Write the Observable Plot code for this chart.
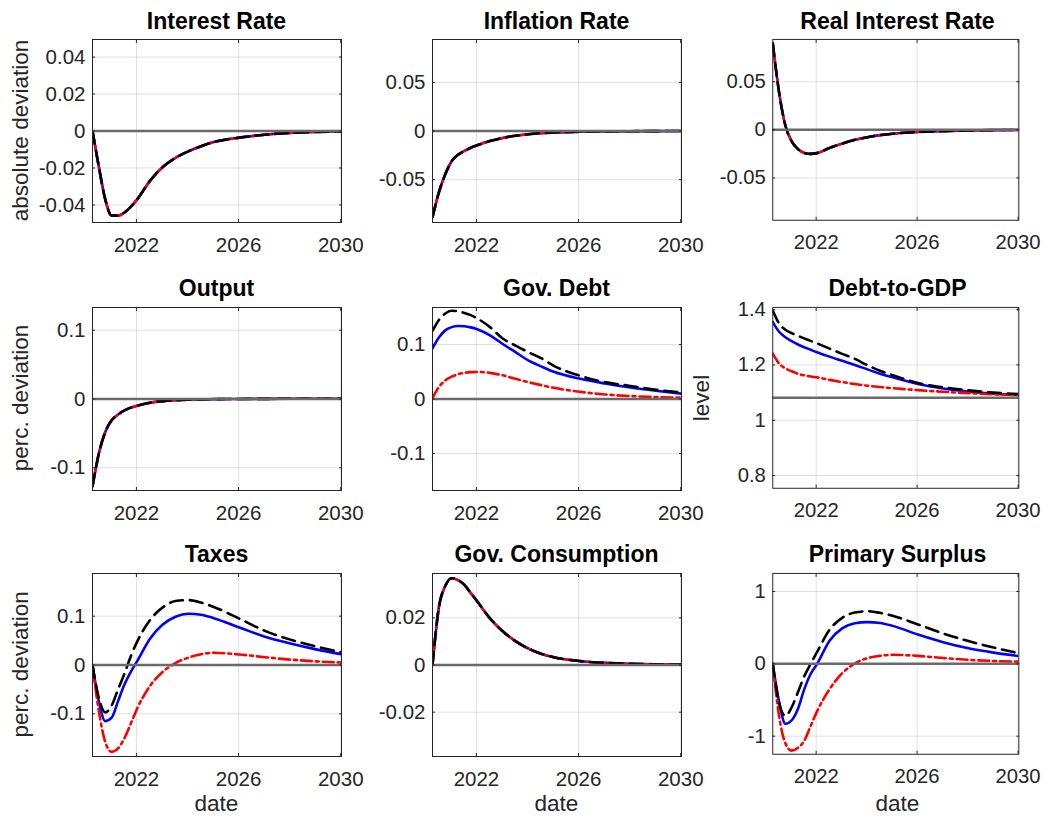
<!DOCTYPE html>
<html><head><meta charset="utf-8">
<script src="https://cdn.jsdelivr.net/npm/d3@7"></script>
<script src="https://cdn.jsdelivr.net/npm/@observablehq/plot@0.6"></script>
<style>
body{margin:0;background:#fff;}
#root{position:relative;width:1046px;height:816px;overflow:hidden;background:#fff;font-family:"Liberation Sans",Arial,Helvetica,sans-serif;}
.panel{position:absolute;}
#labels{position:absolute;left:0;top:0;pointer-events:none;}
</style></head><body><div id="root"></div>
<script>
// ---- data (quarterly early, then half-yearly / yearly) ----
const dates = [2020.28, 2020.53, 2020.78, 2021.03, 2021.28, 2021.53, 2021.78, 2022.03, 2022.53, 2023.03, 2023.53, 2024.03, 2024.53, 2025.03, 2026.03, 2027.03, 2028.03, 2029.03, 2030.03];

const interestRate = [0, -0.0195, -0.037, -0.0458, -0.0458, -0.0441, -0.041, -0.037, -0.027, -0.0195, -0.0145, -0.011, -0.0082, -0.006, -0.0036, -0.002, -0.001, -0.0005, -0.0002];
const inflationRate = [-0.0886, -0.063, -0.0445, -0.031, -0.0245, -0.0205, -0.0172, -0.0147, -0.0103, -0.0071, -0.0049, -0.0033, -0.0022, -0.0015, -0.0008, -0.0004, -0.0002, -0.0001, 0];
const realRate = [0.090, 0.039, 0.0045, -0.012, -0.020, -0.024, -0.025, -0.0242, -0.0188, -0.0143, -0.0104, -0.0076, -0.0055, -0.004, -0.0022, -0.0013, -0.0007, -0.0003, -0.0001];
const output = [-0.127, -0.079, -0.048, -0.031, -0.0225, -0.0165, -0.0125, -0.0097, -0.0054, -0.0031, -0.0018, -0.001, -0.0005, -0.0002, 0.0001, 0.0002, 0.0003, 0.0003, 0.0003];

const debtBlue  = [0.093, 0.113, 0.126, 0.132, 0.134, 0.1335, 0.1315, 0.128, 0.117, 0.101, 0.086, 0.071, 0.060, 0.050, 0.0375, 0.0285, 0.021, 0.015, 0.0098];
const debtRed   = [0.002, 0.022, 0.034, 0.041, 0.0455, 0.048, 0.0493, 0.0497, 0.048, 0.0435, 0.037, 0.031, 0.0255, 0.0205, 0.0133, 0.0084, 0.0054, 0.0035, 0.0024];
const debtBlack = [0.125, 0.145, 0.157, 0.162, 0.161, 0.158, 0.154, 0.148, 0.132, 0.111, 0.098, 0.086, 0.075, 0.061, 0.043, 0.031, 0.024, 0.017, 0.012];

const dtgBlue  = [1.355, 1.320, 1.300, 1.286, 1.274, 1.264, 1.255, 1.246, 1.230, 1.215, 1.200, 1.184, 1.168, 1.155, 1.131, 1.115, 1.104, 1.096, 1.091];
const dtgRed   = [1.241, 1.205, 1.188, 1.177, 1.168, 1.162, 1.158, 1.155, 1.146, 1.138, 1.131, 1.125, 1.120, 1.116, 1.109, 1.103, 1.098, 1.094, 1.091];
const dtgBlack = [1.397, 1.350, 1.327, 1.315, 1.305, 1.296, 1.287, 1.278, 1.259, 1.240, 1.222, 1.199, 1.179, 1.163, 1.135, 1.119, 1.108, 1.100, 1.095];
const dtgSteady = 1.081;

const taxBlue  = [0, -0.075, -0.115, -0.108, -0.074, -0.040, -0.014, 0.008, 0.054, 0.083, 0.099, 0.105, 0.103, 0.096, 0.077, 0.058, 0.044, 0.032, 0.022];
const taxRed   = [0, -0.095, -0.158, -0.178, -0.171, -0.150, -0.120, -0.089, -0.043, -0.014, 0.004, 0.015, 0.022, 0.025, 0.0215, 0.016, 0.011, 0.0075, 0.005];
const taxBlack = [0, -0.068, -0.097, -0.083, -0.050, -0.018, 0.018, 0.048, 0.092, 0.118, 0.131, 0.133, 0.128, 0.119, 0.095, 0.070, 0.052, 0.038, 0.026];

const govCons = [0, 0.0245, 0.0335, 0.0368, 0.036, 0.034, 0.0305, 0.027, 0.0198, 0.0143, 0.0101, 0.007, 0.0048, 0.0033, 0.0017, 0.0009, 0.0005, 0.0003, 0.0002];

const psBlue  = [0, -0.52, -0.83, -0.78, -0.62, -0.35, -0.14, -0.005, 0.32, 0.49, 0.56, 0.577, 0.565, 0.525, 0.405, 0.30, 0.215, 0.155, 0.108];
const psRed   = [0, -0.72, -1.10, -1.20, -1.16, -1.06, -0.86, -0.66, -0.35, -0.13, 0.005, 0.078, 0.11, 0.125, 0.11, 0.08, 0.055, 0.04, 0.03];
const psBlack = [0, -0.54, -0.72, -0.60, -0.39, -0.17, 0.0, 0.16, 0.47, 0.635, 0.71, 0.727, 0.705, 0.665, 0.545, 0.42, 0.315, 0.225, 0.146];

const xTicks = [2022, 2026, 2030];

const panels = [
  {title:"Interest Rate", row:0, col:0, blue:interestRate, red:interestRate, black:interestRate, ss:0, yDomain:[-0.0495,0.0495], yTicks:[-0.04,-0.02,0,0.02,0.04], ylabel:"absolute deviation"},
  {title:"Inflation Rate", row:0, col:1, blue:inflationRate, red:inflationRate, black:inflationRate, ss:0, yDomain:[-0.094,0.094], yTicks:[-0.05,0,0.05]},
  {title:"Real Interest Rate", row:0, col:2, blue:realRate, red:realRate, black:realRate, ss:0, yDomain:[-0.094,0.094], yTicks:[-0.05,0,0.05]},
  {title:"Output", row:1, col:0, blue:output, red:output, black:output, ss:0, yDomain:[-0.133,0.133], yTicks:[-0.1,0,0.1], ylabel:"perc. deviation"},
  {title:"Gov. Debt", row:1, col:1, blue:debtBlue, red:debtRed, black:debtBlack, ss:0, yDomain:[-0.168,0.168], yTicks:[-0.1,0,0.1]},
  {title:"Debt-to-GDP", row:1, col:2, blue:dtgBlue, red:dtgRed, black:dtgBlack, ss:dtgSteady, yDomain:[0.754,1.408], yTicks:[0.8,1,1.2,1.4], ylabel:"level"},
  {title:"Taxes", row:2, col:0, blue:taxBlue, red:taxRed, black:taxBlack, ss:0, yDomain:[-0.1875,0.1875], yTicks:[-0.1,0,0.1], ylabel:"perc. deviation", xlabel:"date"},
  {title:"Gov. Consumption", row:2, col:1, blue:govCons, red:govCons, black:govCons, ss:0, yDomain:[-0.0388,0.0388], yTicks:[-0.02,0,0.02], xlabel:"date"},
  {title:"Primary Surplus", row:2, col:2, blue:psBlue, red:psRed, black:psBlack, ss:0, yDomain:[-1.25,1.25], yTicks:[-1,0,1], xlabel:"date"}
];

// ---- layout ----
const colLeft = [92, 432, 773];
const rowTop = [39, 306.5, 572.8];
const W = 249, H = 183;
const mL = 62, mR = 28, mT = 6, mB = 40;
const FONT = '"Liberation Sans", Arial, Helvetica, sans-serif';
const TICK = "#262626";

const root = document.getElementById("root");

function toRows(vals){ return vals.map((v,i)=>({date: dates[i], value: v})); }

panels.forEach(p => {
  const common = {x:"date", y:"value", strokeWidth:2.6, curve:"monotone-x", clip:true, strokeLinejoin:"round"};
  const chart = Plot.plot({
    width: mL+W+mR, height: mT+H+mB,
    marginLeft: mL, marginRight: mR, marginTop: mT, marginBottom: mB,
    style: {fontFamily: FONT, fontSize: "20.5px", color: TICK, background: "transparent", overflow: "visible"},
    x: {domain:[dates[0], dates[dates.length-1]], label:null},
    y: {domain:p.yDomain, label:null},
    marks: [
      Plot.gridX(xTicks, {stroke:"#000", strokeOpacity:0.12, strokeWidth:1}),
      Plot.gridY(p.yTicks, {stroke:"#000", strokeOpacity:0.12, strokeWidth:1}),
      Plot.line(toRows(p.blue), {...common, stroke:"#0000ff"}),
      Plot.line(toRows(p.red), {...common, stroke:"#ff0000", strokeDasharray:"11,4,3,4"}),
      Plot.line(toRows(p.black), {...common, stroke:"#000000", strokeDasharray:"13,7"}),
      Plot.ruleY([p.ss], {stroke:"#6a6a6a", strokeWidth:2.5}),
      Plot.axisX(xTicks, {anchor:"bottom", tickSize:-3, tickPadding:18, tickFormat:d=>String(d), label:null, stroke:TICK, fill:TICK}),
      Plot.axisX(xTicks, {anchor:"top", tickSize:-3, tickFormat:()=>"", label:null, stroke:TICK}),
      Plot.axisY(p.yTicks, {anchor:"left", tickSize:-3, tickPadding:10, tickFormat:d=>String(d), label:null, stroke:TICK, fill:TICK}),
      Plot.axisY(p.yTicks, {anchor:"right", tickSize:-3, tickFormat:()=>"", label:null, stroke:TICK}),
      Plot.frame({stroke:TICK, strokeWidth:1})
    ]
  });
  const wrap = document.createElement("div");
  wrap.className = "panel";
  wrap.style.left = (colLeft[p.col]-mL) + "px";
  wrap.style.top = (rowTop[p.row]-mT) + "px";
  wrap.appendChild(chart);
  root.appendChild(wrap);
});

// ---- titles and axis labels ----
const svg = d3.select(root).append("svg").attr("id","labels")
  .attr("width",1046).attr("height",816)
  .style("font-family", FONT);

panels.forEach(p => {
  const cx = colLeft[p.col] + W/2;
  const top = rowTop[p.row];
  svg.append("text").attr("x", cx).attr("y", top - 10.5)
    .attr("text-anchor","middle").attr("font-weight","bold").attr("font-size","23px").attr("fill","#000")
    .text(p.title);
  if (p.ylabel) {
    const lx = colLeft[p.col] - 64, ly = top + H/2;
    svg.append("text").attr("transform", `translate(${lx},${ly}) rotate(-90)`)
      .attr("text-anchor","middle").attr("font-size","22.5px").attr("fill",TICK)
      .text(p.ylabel);
  }
  if (p.xlabel) {
    svg.append("text").attr("x", cx).attr("y", 811)
      .attr("text-anchor","middle").attr("font-size","22.5px").attr("fill",TICK)
      .text(p.xlabel);
  }
});
</script>
</body></html>
